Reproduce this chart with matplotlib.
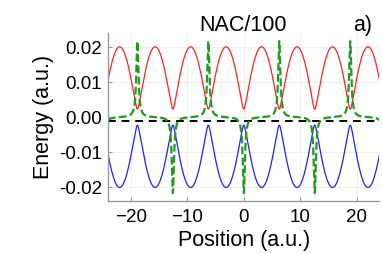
import numpy as np
import matplotlib.pyplot as plt

plt.rcParams["font.family"] = ["Liberation Sans", "DejaVu Sans"]

# Two-state model, parameters (a.u.)
amplitude = 0.02        # height of the upper surface
coupling = 0.0023       # half gap at the avoided crossings
period = 2 * np.pi      # spacing of the crossings
ref_energy = -0.001     # black dashed line
nac_scale = 100

x_limits = [-24, 24]
y_limits = [-0.024, 0.024]
x_ticks = [-20, -10, 0, 10, 20]
y_ticks = [-0.02, -0.01, 0.0, 0.01, 0.02]


def main():
    x = np.linspace(-25, 25, 4001)
    k = np.pi / period
    v = amplitude * np.sin(k * x)
    dv = amplitude * k * np.cos(k * x)
    e_up = np.sqrt(v**2 + coupling**2)
    e_down = -e_up
    nac = -0.5 * coupling * dv / (v**2 + coupling**2) / nac_scale

    fig = plt.figure(figsize=(3.82, 2.54), dpi=100)
    ax = fig.add_axes([0.2835, 0.2087, 0.7095, 0.6603])

    ax.plot(x, e_up, color="#ff2020", lw=0.9)
    ax.plot(x, e_down, color="#2020ff", lw=0.9)
    ax.axhline(ref_energy, color="black", lw=1.4, dashes=(4, 3))
    ax.plot(x, nac, color="#229922", lw=1.6, dashes=(3.5, 1.5))

    ax.set_xlim(x_limits)
    ax.set_ylim(y_limits)
    ax.set_xticks(x_ticks)
    ax.set_yticks(y_ticks)
    ax.set_yticklabels([f"{t:.2f}" for t in y_ticks])
    ax.grid(True, color="#eeeeee", lw=0.6)
    ax.set_axisbelow(True)

    for side in ["top", "right"]:
        ax.spines[side].set_visible(False)
    for side in ["left", "bottom"]:
        ax.spines[side].set_color("#999999")
        ax.spines[side].set_linewidth(1.0)
    ax.tick_params(axis="both", direction="in", length=3, color="#999999",
                   labelsize=13.5)
    ax.tick_params(axis="x", pad=5.5)
    ax.tick_params(axis="y", pad=4.5)

    ax.set_xlabel("Position (a.u.)", fontsize=15.5)
    ax.set_ylabel("Energy (a.u.)", fontsize=15.5)
    ax.xaxis.set_label_coords(0.5, -0.17)
    ax.yaxis.set_label_coords(-0.20, 0.5)

    fig.text(0.637, 0.90, "NAC/100", fontsize=15.5, ha="center", va="center")
    fig.text(0.949, 0.90, "a)", fontsize=15.5, ha="center", va="center")

    fig.savefig("out.png", dpi=100)
    plt.close(fig)


if __name__ == "__main__":
    main()
